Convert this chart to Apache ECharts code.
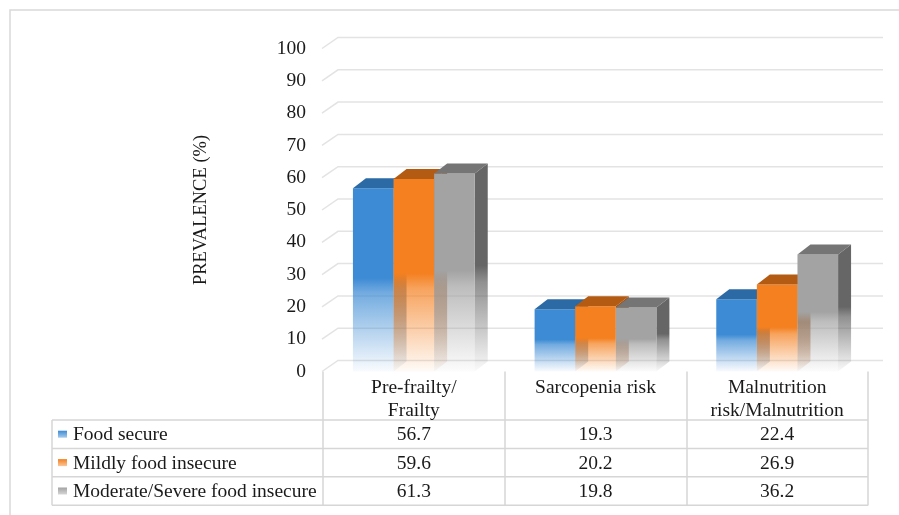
<!DOCTYPE html>
<html>
<head>
<meta charset="utf-8">
<script src="https://cdn.jsdelivr.net/npm/echarts@6/dist/echarts.min.js"></script>
<style>
html,body{margin:0;padding:0;background:#fff;}
#chart{width:899px;height:515px;}
</style>
</head>
<body>
<div id="chart"></div>
<script>
const categories = ['Pre-frailty/\nFrailty', 'Sarcopenia risk', 'Malnutrition\nrisk/Malnutrition'];
const seriesNames = ['Food secure', 'Mildly food insecure', 'Moderate/Severe food insecure'];
const foodSecure = [56.7, 19.3, 22.4];
const mildlyInsecure = [59.6, 20.2, 26.9];
const moderateSevere = [61.3, 19.8, 36.2];
const yTicks = [0, 10, 20, 30, 40, 50, 60, 70, 80, 90, 100];
const yAxisTitle = 'PREVALENCE (%)';

const FONT = 'Liberation Serif';
const FS = 19.5;
const TXT = '#1a1a1a';
const DX = 13, DY = -10;

const palettes = [
  {front: [61, 139, 212], top: '#2b6aa5', side: [44, 95, 142]},
  {front: [244, 128, 32], top: '#b35a13', side: [160, 80, 20]},
  {front: [163, 163, 163], top: '#757575', side: [102, 102, 102]}
];
function rgba(c, a) { return 'rgba(' + c[0] + ',' + c[1] + ',' + c[2] + ',' + a + ')'; }
function fade(c) {
  return new echarts.graphic.LinearGradient(0, 0, 0, 1, [
    {offset: 0, color: rgba(c, 1)},
    {offset: 0.49, color: rgba(c, 1)},
    {offset: 0.57, color: rgba(c, 0.72)},
    {offset: 0.8, color: rgba(c, 0.35)},
    {offset: 1, color: rgba(c, 0.03)}
  ]);
}

function barRenderer(s) {
  const p = palettes[s];
  return function (params, api) {
    const i = api.value(0);
    const v = api.value(1);
    const base = api.coord([i, 0]);
    const top = api.coord([i, v]);
    const band = api.size([1, 0])[0];
    const w = band * 0.2235;
    const x0 = base[0] - 1.5 * w + s * w;
    const yT = top[1], yB = base[1];
    return {
      type: 'group',
      children: [
        {type: 'polygon', shape: {points: [[x0 + w, yT], [x0 + w + DX, yT + DY], [x0 + w + DX, yB + DY], [x0 + w, yB]]},
          style: {fill: fade(p.side)}},
        {type: 'rect', shape: {x: x0, y: yT, width: w, height: yB - yT}, style: {fill: fade(p.front)}},
        {type: 'polygon', shape: {points: [[x0, yT], [x0 + w, yT], [x0 + w + DX, yT + DY], [x0 + DX, yT + DY]]},
          style: {fill: p.top}}
      ]
    };
  };
}

function gridRenderer(params, api) {
  const cs = params.coordSys;
  const y = api.coord([0, api.value(1)])[1];
  return {
    type: 'polyline',
    shape: {points: [[cs.x - 1, y], [cs.x + 15, y - 11], [cs.x + cs.width + 15, y - 11]]},
    style: {stroke: '#e3e3e3', lineWidth: 1.5, fill: null}
  };
}

const valueLists = [foodSecure, mildlyInsecure, moderateSevere];

const series = [{
  type: 'custom', name: 'grid', z: 1, silent: true,
  renderItem: gridRenderer,
  data: yTicks.map(t => [0, t])
}];
valueLists.forEach((vals, s) => {
  series.push({
    type: 'custom', name: seriesNames[s], z: 2 + s,
    renderItem: barRenderer(s),
    encode: {x: 0, y: 1},
    data: vals.map((v, i) => [i, v])
  });
});

// table built from the data arrays
const tbl = {left: 52, right: 868, colX: 323, rowTop: 420, rowH: 28.4};
const graphics = [
  {type: 'rect', shape: {x: 10, y: 10, width: 900, height: 520}, style: {fill: null, stroke: '#d9d9d9', lineWidth: 1.5}, z: 0}
];
const lineStyle = {stroke: '#d6d6d6', lineWidth: 1.5};
for (let r = 0; r <= 3; r++) {
  const y = tbl.rowTop + r * tbl.rowH;
  graphics.push({type: 'line', shape: {x1: tbl.left, y1: y, x2: tbl.right, y2: y}, style: lineStyle});
}
graphics.push({type: 'line', shape: {x1: tbl.left, y1: tbl.rowTop, x2: tbl.left, y2: tbl.rowTop + 3 * tbl.rowH}, style: lineStyle});
const colW = (tbl.right - tbl.colX) / categories.length;
seriesNames.forEach((name, s) => {
  const cy = tbl.rowTop + (s + 0.5) * tbl.rowH;
  const p = palettes[s];
  graphics.push({type: 'rect', shape: {x: 58, y: cy - 3.5, width: 9, height: 7},
    style: {fill: new echarts.graphic.LinearGradient(0, 0, 0, 1, [{offset: 0, color: rgba(p.front, 1)}, {offset: 1, color: rgba(p.front, 0.45)}])}});
  graphics.push({type: 'text', x: 73, y: cy + 1, style: {text: name, fontSize: FS, fontFamily: FONT, fill: TXT, verticalAlign: 'middle', align: 'left'}});
  valueLists[s].forEach((v, i) => {
    graphics.push({type: 'text', x: tbl.colX + (i + 0.5) * colW, y: cy + 1,
      style: {text: v.toFixed(1), fontSize: FS, fontFamily: FONT, fill: TXT, verticalAlign: 'middle', align: 'center'}});
  });
});

const chart = echarts.init(document.getElementById('chart'), null, {renderer: 'canvas'});
chart.setOption({
  animation: false,
  backgroundColor: '#fff',
  textStyle: {fontFamily: FONT},
  grid: {left: 323, right: 31, top: 48.5, bottom: 143.5},
  xAxis: {
    type: 'category', data: categories,
    axisLine: {show: false},
    axisTick: {show: true, length: 134, lineStyle: {color: '#d6d6d6', width: 1.5}},
    axisLabel: {interval: 0, fontSize: FS, fontFamily: FONT, color: TXT, lineHeight: 23, margin: 5}
  },
  yAxis: {
    type: 'value', min: 0, max: 100, interval: 10,
    axisLine: {show: false}, axisTick: {show: false}, splitLine: {show: false},
    axisLabel: {fontSize: FS, fontFamily: FONT, color: TXT, margin: 17},
    name: yAxisTitle, nameLocation: 'middle', nameRotate: 90, nameGap: 112,
    nameTextStyle: {fontSize: 18.5, fontFamily: FONT, color: TXT}
  },
  series: series,
  graphic: graphics
});
</script>
</body>
</html>
